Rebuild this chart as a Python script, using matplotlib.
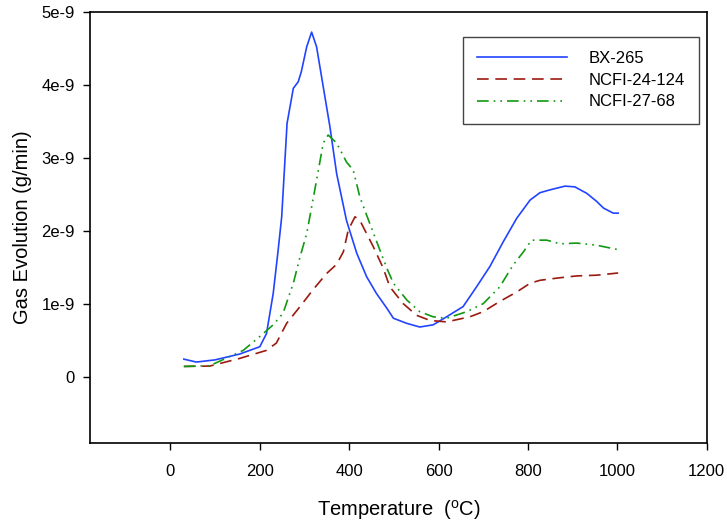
import numpy as np
import matplotlib
matplotlib.use("Agg")
import matplotlib.pyplot as plt

plt.rcParams["font.family"] = ["Liberation Sans", "DejaVu Sans"]
plt.rcParams["mathtext.fontset"] = "custom"
plt.rcParams["mathtext.rm"] = "Liberation Sans"

# Temperature (C) / gas evolution (1e-9 g/min)
bx_t = [30, 58, 100, 155, 200, 215, 230, 241, 249, 261, 275, 286, 293, 305, 316,
        327, 342, 357, 372, 394, 417, 439, 461, 484, 499, 529, 558, 588, 618,
        655, 685, 715, 745, 775, 805, 827, 850, 883, 905, 932, 954, 969, 991, 1002]
bx_g = [0.25, 0.21, 0.24, 0.32, 0.42, 0.60, 1.15, 1.74, 2.20, 3.48, 3.96, 4.05, 4.19,
        4.53, 4.73, 4.53, 3.98, 3.43, 2.79, 2.15, 1.70, 1.38, 1.15, 0.95, 0.81,
        0.74, 0.69, 0.72, 0.83, 0.97, 1.24, 1.52, 1.86, 2.18, 2.43, 2.53, 2.57,
        2.62, 2.61, 2.52, 2.41, 2.32, 2.25, 2.25]

ncfi24_t = [30, 88, 155, 215, 237, 260, 290, 319, 349, 372, 387, 398, 413, 424,
            454, 476, 491, 521, 551, 581, 618, 670, 700, 737, 775, 805, 827, 865,
            909, 954, 1002]
ncfi24_g = [0.15, 0.155, 0.26, 0.37, 0.47, 0.74, 0.97, 1.20, 1.42, 1.55, 1.72, 2.02,
            2.20, 2.15, 1.79, 1.50, 1.24, 1.01, 0.85, 0.78, 0.76, 0.83, 0.90, 1.04,
            1.17, 1.29, 1.33, 1.36, 1.39, 1.40, 1.43]

ncfi27_t = [30, 88, 163, 200, 230, 252, 275, 290, 305, 327, 342, 353, 372, 394,
            409, 424, 446, 469, 484, 499, 529, 558, 588, 618, 663, 700, 737, 767,
            790, 808, 842, 872, 909, 954, 1002]
ncfi27_g = [0.15, 0.16, 0.37, 0.56, 0.72, 0.88, 1.29, 1.65, 1.97, 2.70, 3.21, 3.32,
            3.21, 2.95, 2.84, 2.47, 2.11, 1.74, 1.50, 1.29, 1.06, 0.90, 0.83, 0.81,
            0.90, 1.01, 1.24, 1.54, 1.72, 1.88, 1.88, 1.83, 1.84, 1.81, 1.75]

x_ticks = [0, 200, 400, 600, 800, 1000, 1200]
y_ticks = [0, 1e-9, 2e-9, 3e-9, 4e-9, 5e-9]
y_tick_labels = ["0", "1e-9", "2e-9", "3e-9", "4e-9", "5e-9"]

fig = plt.figure(figsize=(7.27, 5.23), dpi=100)
ax = fig.add_axes([0.1238, 0.1535, 0.8482, 0.8228])

ax.plot(bx_t, np.array(bx_g) * 1e-9, color="#2244ff", lw=1.2, label="BX-265")
ax.plot(ncfi24_t, np.array(ncfi24_g) * 1e-9, color="#9a1a10", lw=1.2,
        dashes=(7, 4), label="NCFI-24-124")
ax.plot(ncfi27_t, np.array(ncfi27_g) * 1e-9, color="#119911", lw=1.2,
        dashes=(7, 3, 1, 3, 1, 3), label="NCFI-27-68")

ax.set_xlim(-180, 1200)
ax.set_ylim(-0.895e-9, 5e-9)
ax.set_xticks(x_ticks)
ax.set_yticks(y_ticks)
ax.set_yticklabels(y_tick_labels)
ax.tick_params(direction="out", length=5, width=1, labelsize=12, top=False, right=False)
ax.tick_params(axis="x", pad=10)
ax.tick_params(axis="y", pad=6)
for s in ax.spines.values():
    s.set_linewidth(1.2)

ax.set_xlabel(r"Temperature  ($^{\mathregular{o}}$C)", fontsize=14.5, labelpad=14)
ax.set_ylabel("Gas Evolution (g/min)", fontsize=14.5, labelpad=7)

leg = ax.legend(loc="upper right", bbox_to_anchor=(0.9875, 0.943), borderaxespad=0,
                fontsize=12, handlelength=5.4, handletextpad=1.3, labelspacing=0.4,
                fancybox=False, framealpha=1, borderpad=0.85)
leg.get_frame().set_edgecolor("#444444")
leg.get_frame().set_linewidth(1.0)

fig.savefig("out.png", dpi=100)
